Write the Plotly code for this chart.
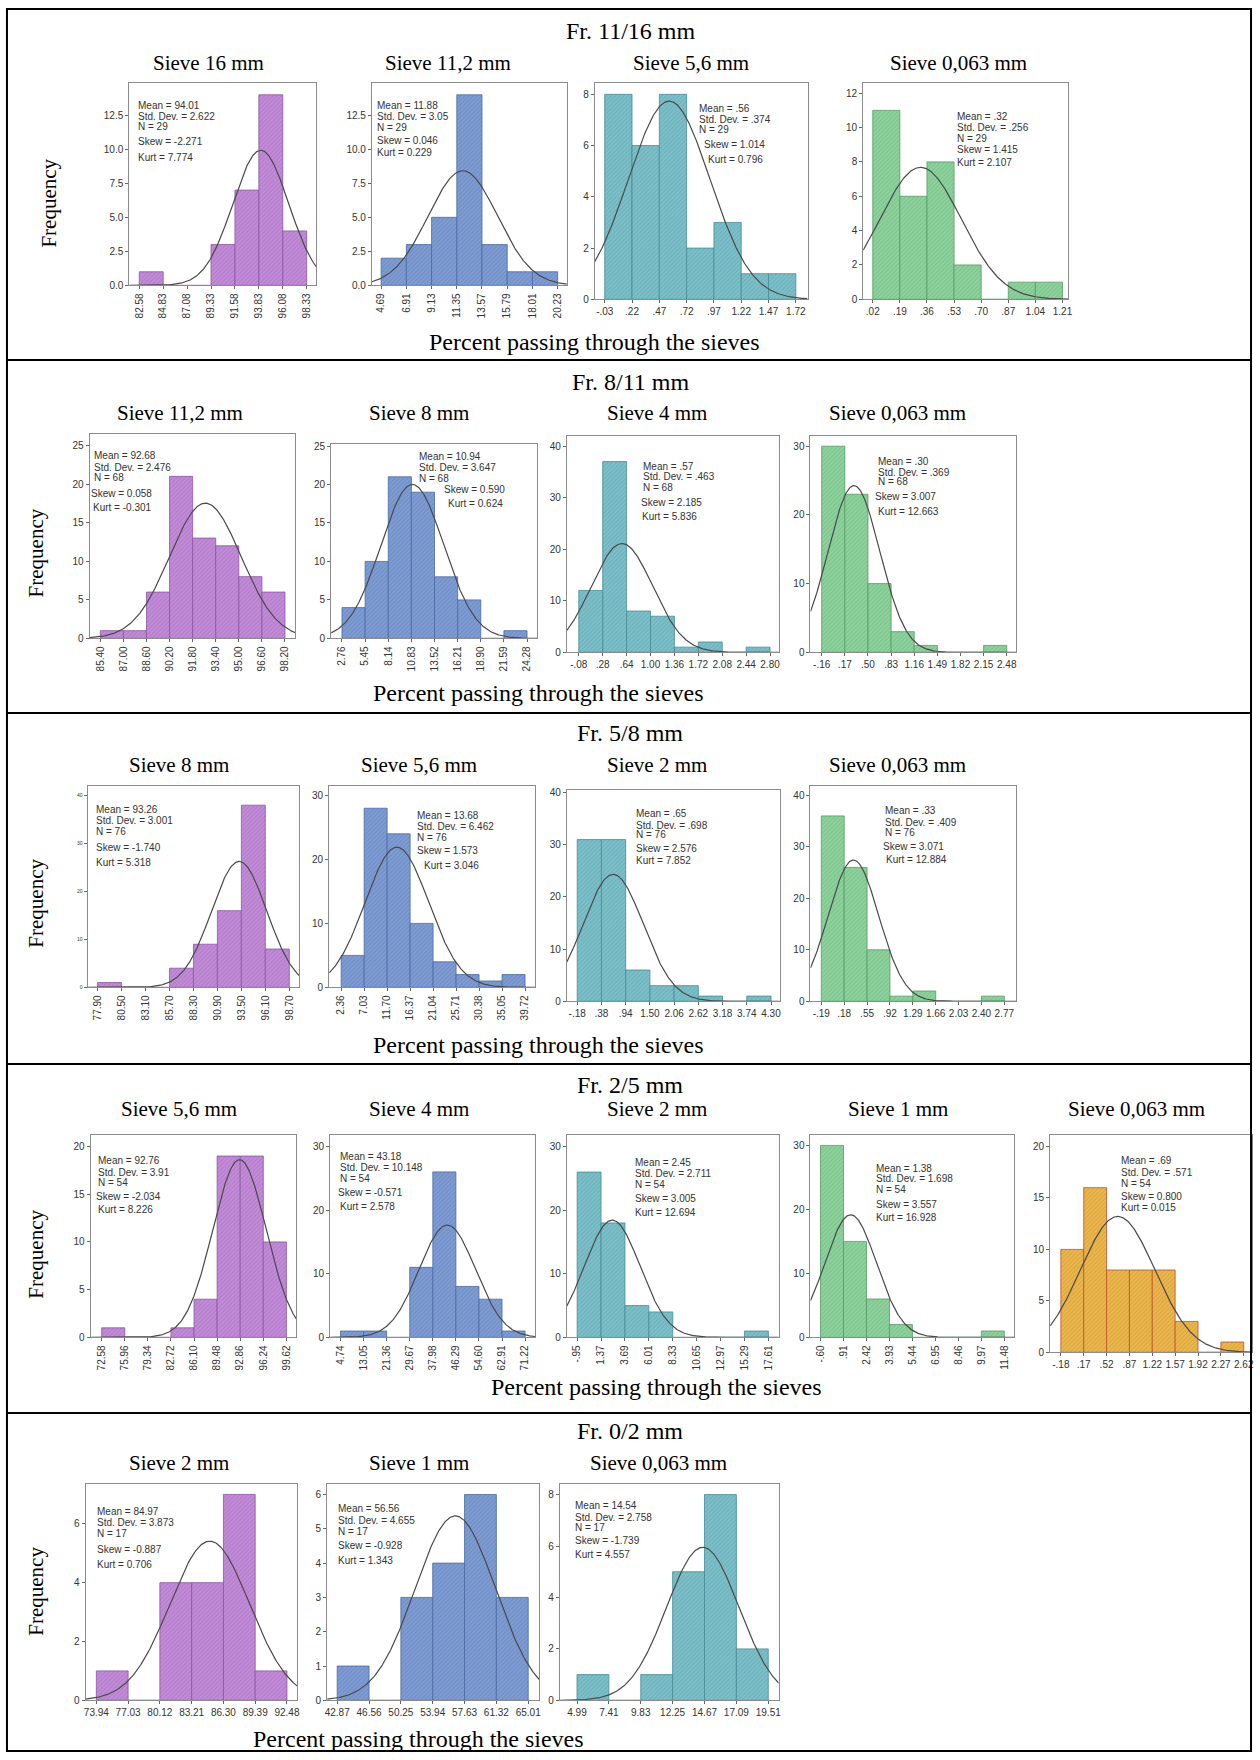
import numpy as np
import plotly.graph_objects as go

# ------------------------------------------------------------------ data
ROW_TITLES = ["Fr. 11/16 mm", "Fr. 8/11 mm", "Fr. 5/8 mm", "Fr. 2/5 mm", "Fr. 0/2 mm"]
ROW_SIEVES = [
    ["Sieve 16 mm", "Sieve 11,2 mm", "Sieve 5,6 mm", "Sieve 0,063 mm"],
    ["Sieve 11,2 mm", "Sieve 8 mm", "Sieve 4 mm", "Sieve 0,063 mm"],
    ["Sieve 8 mm", "Sieve 5,6 mm", "Sieve 2 mm", "Sieve 0,063 mm"],
    ["Sieve 5,6 mm", "Sieve 4 mm", "Sieve 2 mm", "Sieve 1 mm", "Sieve 0,063 mm"],
    ["Sieve 2 mm", "Sieve 1 mm", "Sieve 0,063 mm"],
]
X_TITLE = "Percent passing through the sieves"
Y_TITLE = "Frequency"
STAT_NAMES = ["Mean", "Std. Dev.", "N", "Skew", "Kurt"]

# row 1 : Fr. 11/16 mm
R1P1_EDGES = ["82.58", "84.83", "87.08", "89.33", "91.58", "93.83", "96.08", "98.33"]
R1P1_COUNTS = [1, 0, 0, 3, 7, 14, 4]
R1P1_STATS = ["94.01", "2.622", "29", "-2.271", "7.774"]
R1P1_YTICKS = ["0.0", "2.5", "5.0", "7.5", "10.0", "12.5"]

R1P2_EDGES = ["4.69", "6.91", "9.13", "11.35", "13.57", "15.79", "18.01", "20.23"]
R1P2_COUNTS = [2, 3, 5, 14, 3, 1, 1]
R1P2_STATS = ["11.88", "3.05", "29", "0.046", "0.229"]
R1P2_YTICKS = ["0.0", "2.5", "5.0", "7.5", "10.0", "12.5"]

R1P3_EDGES = ["-.03", ".22", ".47", ".72", ".97", "1.22", "1.47", "1.72"]
R1P3_COUNTS = [8, 6, 8, 2, 3, 1, 1]
R1P3_STATS = [".56", ".374", "29", "1.014", "0.796"]
R1P3_YTICKS = ["0", "2", "4", "6", "8"]

R1P4_EDGES = [".02", ".19", ".36", ".53", ".70", ".87", "1.04", "1.21"]
R1P4_COUNTS = [11, 6, 8, 2, 0, 1, 1]
R1P4_STATS = [".32", ".256", "29", "1.415", "2.107"]
R1P4_YTICKS = ["0", "2", "4", "6", "8", "10", "12"]

# row 2 : Fr. 8/11 mm
R2P1_EDGES = ["85.40", "87.00", "88.60", "90.20", "91.80", "93.40", "95.00", "96.60", "98.20"]
R2P1_COUNTS = [1, 1, 6, 21, 13, 12, 8, 6]
R2P1_STATS = ["92.68", "2.476", "68", "0.058", "-0.301"]
R2P1_YTICKS = ["0", "5", "10", "15", "20", "25"]

R2P2_EDGES = ["2.76", "5.45", "8.14", "10.83", "13.52", "16.21", "18.90", "21.59", "24.28"]
R2P2_COUNTS = [4, 10, 21, 19, 8, 5, 0, 1]
R2P2_STATS = ["10.94", "3.647", "68", "0.590", "0.624"]
R2P2_YTICKS = ["0", "5", "10", "15", "20", "25"]

R2P3_EDGES = ["-.08", ".28", ".64", "1.00", "1.36", "1.72", "2.08", "2.44", "2.80"]
R2P3_COUNTS = [12, 37, 8, 7, 1, 2, 0, 1]
R2P3_STATS = [".57", ".463", "68", "2.185", "5.836"]
R2P3_YTICKS = ["0", "10", "20", "30", "40"]

R2P4_EDGES = ["-.16", ".17", ".50", ".83", "1.16", "1.49", "1.82", "2.15", "2.48"]
R2P4_COUNTS = [30, 23, 10, 3, 1, 0, 0, 1]
R2P4_STATS = [".30", ".369", "68", "3.007", "12.663"]
R2P4_YTICKS = ["0", "10", "20", "30"]

# row 3 : Fr. 5/8 mm
R3P1_EDGES = ["77.90", "80.50", "83.10", "85.70", "88.30", "90.90", "93.50", "96.10", "98.70"]
R3P1_COUNTS = [1, 0, 0, 4, 9, 16, 38, 8]
R3P1_STATS = ["93.26", "3.001", "76", "-1.740", "5.318"]
R3P1_YTICKS = ["0", "10", "20", "30", "40"]

R3P2_EDGES = ["2.36", "7.03", "11.70", "16.37", "21.04", "25.71", "30.38", "35.05", "39.72"]
R3P2_COUNTS = [5, 28, 24, 10, 4, 2, 1, 2]
R3P2_STATS = ["13.68", "6.462", "76", "1.573", "3.046"]
R3P2_YTICKS = ["0", "10", "20", "30"]

R3P3_EDGES = ["-.18", ".38", ".94", "1.50", "2.06", "2.62", "3.18", "3.74", "4.30"]
R3P3_COUNTS = [31, 31, 6, 3, 3, 1, 0, 1]
R3P3_STATS = [".65", ".698", "76", "2.576", "7.852"]
R3P3_YTICKS = ["0", "10", "20", "30", "40"]

R3P4_EDGES = ["-.19", ".18", ".55", ".92", "1.29", "1.66", "2.03", "2.40", "2.77"]
R3P4_COUNTS = [36, 26, 10, 1, 2, 0, 0, 1]
R3P4_STATS = [".33", ".409", "76", "3.071", "12.884"]
R3P4_YTICKS = ["0", "10", "20", "30", "40"]

# row 4 : Fr. 2/5 mm
R4P1_EDGES = ["72.58", "75.96", "79.34", "82.72", "86.10", "89.48", "92.86", "96.24", "99.62"]
R4P1_COUNTS = [1, 0, 0, 1, 4, 19, 19, 10]
R4P1_STATS = ["92.76", "3.91", "54", "-2.034", "8.226"]
R4P1_YTICKS = ["0", "5", "10", "15", "20"]

R4P2_EDGES = ["4.74", "13.05", "21.36", "29.67", "37.98", "46.29", "54.60", "62.91", "71.22"]
R4P2_COUNTS = [1, 1, 0, 11, 26, 8, 6, 1]
R4P2_STATS = ["43.18", "10.148", "54", "-0.571", "2.578"]
R4P2_YTICKS = ["0", "10", "20", "30"]

R4P3_EDGES = ["-.95", "1.37", "3.69", "6.01", "8.33", "10.65", "12.97", "15.29", "17.61"]
R4P3_COUNTS = [26, 18, 5, 4, 0, 0, 0, 1]
R4P3_STATS = ["2.45", "2.711", "54", "3.005", "12.694"]
R4P3_YTICKS = ["0", "10", "20", "30"]

R4P4_EDGES = ["-.60", ".91", "2.42", "3.93", "5.44", "6.95", "8.46", "9.97", "11.48"]
R4P4_COUNTS = [30, 15, 6, 2, 0, 0, 0, 1]
R4P4_STATS = ["1.38", "1.698", "54", "3.557", "16.928"]
R4P4_YTICKS = ["0", "10", "20", "30"]

R4P5_EDGES = ["-.18", ".17", ".52", ".87", "1.22", "1.57", "1.92", "2.27", "2.62"]
R4P5_COUNTS = [10, 16, 8, 8, 8, 3, 0, 1]
R4P5_STATS = [".69", ".571", "54", "0.800", "0.015"]
R4P5_YTICKS = ["0", "5", "10", "15", "20"]

# row 5 : Fr. 0/2 mm
R5P1_EDGES = ["73.94", "77.03", "80.12", "83.21", "86.30", "89.39", "92.48"]
R5P1_COUNTS = [1, 0, 4, 4, 7, 1]
R5P1_STATS = ["84.97", "3.873", "17", "-0.887", "0.706"]
R5P1_YTICKS = ["0", "2", "4", "6"]

R5P2_EDGES = ["42.87", "46.56", "50.25", "53.94", "57.63", "61.32", "65.01"]
R5P2_COUNTS = [1, 0, 3, 4, 6, 3]
R5P2_STATS = ["56.56", "4.655", "17", "-0.928", "1.343"]
R5P2_YTICKS = ["0", "1", "2", "3", "4", "5", "6"]

R5P3_EDGES = ["4.99", "7.41", "9.83", "12.25", "14.67", "17.09", "19.51"]
R5P3_COUNTS = [1, 0, 1, 5, 8, 2]
R5P3_STATS = ["14.54", "2.758", "17", "-1.739", "4.557"]
R5P3_YTICKS = ["0", "2", "4", "6", "8"]

# ------------------------------------------------------------------ style / layout
W, H = 1260, 1760
SERIF = "Liberation Serif, Times New Roman, serif"
SANS = "Liberation Sans, Arial, sans-serif"

COLORS = {
    "purple": ("#C28CD8", "#8A55A2", "#B27BC8"),
    "blue": ("#7F9DD3", "#4A69A4", "#6F8DC5"),
    "teal": ("#7DC0C9", "#468C96", "#6CB0BA"),
    "green": ("#8ED29E", "#559C66", "#7DC28D"),
    "orange": ("#EBB74E", "#C0502A", "#DAA53E"),
}

# frame = (left, right, top, bottom) in pixels; xr = x range; ytop = y max
PANELS = [
    dict(d=(R1P1_EDGES, R1P1_COUNTS, R1P1_STATS, R1P1_YTICKS), c="purple", frame=(128, 316, 79, 283), xr=(81.64, 99.23), ytop=14.9, rot=True,
         tx=[135, 135, 135, 135, 135], ty=[101.7, 112.7, 123.3, 138.3, 154]),
    dict(d=(R1P2_EDGES, R1P2_COUNTS, R1P2_STATS, R1P2_YTICKS), c="blue", frame=(372, 568, 79, 283), xr=(3.88, 21.04), ytop=14.9, rot=True,
         tx=[375.5] * 5, ty=[101.7, 112.7, 124, 137.3, 149.7]),
    dict(d=(R1P3_EDGES, R1P3_COUNTS, R1P3_STATS, R1P3_YTICKS), c="teal", frame=(596, 810, 79, 297), xr=(-0.122, 1.827), ytop=8.46, rot=False,
         tx=[699, 699, 699, 704, 707.5], ty=[105, 116, 126.7, 141, 156]),
    dict(d=(R1P4_EDGES, R1P4_COUNTS, R1P4_STATS, R1P4_YTICKS), c="green", frame=(866, 1072, 79, 297), xr=(-0.04, 1.245), ytop=12.62, rot=False,
         tx=[958.5] * 5, ty=[112.7, 124, 135, 146.7, 159.3]),

    dict(d=(R2P1_EDGES, R2P1_COUNTS, R2P1_STATS, R2P1_YTICKS), c="purple", frame=(88, 295, 432, 638), xr=(84.65, 98.92), ytop=26.55, rot=True,
         tx=[90.4, 90.4, 90.4, 87.6, 89.2], ty=[454.3, 466, 476.7, 492.3, 506.7]),
    dict(d=(R2P2_EDGES, R2P2_COUNTS, R2P2_STATS, R2P2_YTICKS), c="blue", frame=(331, 538, 443, 638), xr=(1.5, 25.44), ytop=25.2, rot=True,
         tx=[417.8, 417.8, 417.8, 442, 446.8], ty=[455, 466, 477, 488.3, 502.7]),
    dict(d=(R2P3_EDGES, R2P3_COUNTS, R2P3_STATS, R2P3_YTICKS), c="teal", frame=(568, 781, 434, 652), xr=(-0.26, 2.93), ytop=42.05, rot=False,
         tx=[643, 643, 643, 641, 642], ty=[465, 475.7, 486.7, 501.7, 515]),
    dict(d=(R2P4_EDGES, R2P4_COUNTS, R2P4_STATS, R2P4_YTICKS), c="green", frame=(813, 1020, 434, 652), xr=(-0.32, 2.617), ytop=31.55, rot=False,
         tx=[879, 879, 879, 876.3, 879], ty=[460, 470.7, 480.7, 495, 510]),

    dict(d=(R3P1_EDGES, R3P1_COUNTS, R3P1_STATS, R3P1_YTICKS), c="purple", frame=(86, 299, 786, 989), xr=(76.81, 99.79), ytop=42.1, rot=True,
         tx=[92.4] * 5, ty=[810, 821, 832, 848.3, 863.3], yfont=5),
    dict(d=(R3P2_EDGES, R3P2_COUNTS, R3P2_STATS, R3P2_YTICKS), c="blue", frame=(329, 536, 786, 989), xr=(-0.08, 41.75), ytop=31.55, rot=True,
         tx=[415.8, 415.8, 415.8, 415.8, 421.9], ty=[816, 827.3, 838.3, 851, 866]),
    dict(d=(R3P3_EDGES, R3P3_COUNTS, R3P3_STATS, R3P3_YTICKS), c="teal", frame=(568, 782, 790, 1003), xr=(-0.42, 4.50), ytop=40.6, rot=False,
         tx=[636] * 5, ty=[814.3, 825.7, 835.7, 849.3, 861.7]),
    dict(d=(R3P4_EDGES, R3P4_COUNTS, R3P4_STATS, R3P4_YTICKS), c="green", frame=(813, 1020, 786, 1003), xr=(-0.365, 2.964), ytop=41.9, rot=False,
         tx=[886, 886, 886, 884, 887], ty=[811, 822.7, 833.3, 847.3, 860]),

    dict(d=(R4P1_EDGES, R4P1_COUNTS, R4P1_STATS, R4P1_YTICKS), c="purple", frame=(89, 296, 1137, 1341), xr=(70.94, 101.08), ytop=21.25, rot=True,
         tx=[94.4, 94.4, 94.4, 93, 95], ty=[1163, 1174.7, 1185.7, 1199, 1212.3]),
    dict(d=(R4P2_EDGES, R4P2_COUNTS, R4P2_STATS, R4P2_YTICKS), c="blue", frame=(330, 536, 1137, 1341), xr=(1.0, 74.8), ytop=31.87, rot=True,
         tx=[337.5, 337.5, 337.5, 335.5, 337.5], ty=[1159, 1169.7, 1181.3, 1195.7, 1209]),
    dict(d=(R4P3_EDGES, R4P3_COUNTS, R4P3_STATS, R4P3_YTICKS), c="teal", frame=(568, 781, 1137, 1341), xr=(-1.95, 18.61), ytop=31.9, rot=True,
         tx=[634.8] * 5, ty=[1164.7, 1176.3, 1187.3, 1201.3, 1215.7]),
    dict(d=(R4P4_EDGES, R4P4_COUNTS, R4P4_STATS, R4P4_YTICKS), c="green", frame=(813, 1018, 1137, 1341), xr=(-1.26, 12.14), ytop=31.7, rot=True,
         tx=[877] * 5, ty=[1170.7, 1181.3, 1192.3, 1207, 1220.7]),
    dict(d=(R4P5_EDGES, R4P5_COUNTS, R4P5_STATS, R4P5_YTICKS), c="orange", frame=(1054, 1257, 1137, 1356), xr=(-0.344, 2.747), ytop=21.16, rot=False,
         tx=[1123.4] * 5, ty=[1163, 1174.7, 1186.3, 1199, 1210.7]),

    dict(d=(R5P1_EDGES, R5P1_COUNTS, R5P1_STATS, R5P1_YTICKS), c="purple", frame=(84, 297, 1488, 1706), xr=(72.89, 93.49), ytop=7.37, rot=False,
         tx=[93.2] * 5, ty=[1515.7, 1527, 1538, 1554.7, 1569.7]),
    dict(d=(R5P2_EDGES, R5P2_COUNTS, R5P2_STATS, R5P2_YTICKS), c="blue", frame=(327, 540, 1488, 1706), xr=(41.71, 66.26), ytop=6.32, rot=False,
         tx=[335.5] * 5, ty=[1513, 1524.7, 1536.3, 1550.7, 1565.3]),
    dict(d=(R5P3_EDGES, R5P3_COUNTS, R5P3_STATS, R5P3_YTICKS), c="teal", frame=(561, 781, 1488, 1706), xr=(3.69, 20.3), ytop=8.43, rot=False,
         tx=[573.7] * 5, ty=[1510.3, 1522, 1532.3, 1545.3, 1559.7]),
]

ROW_TITLE_POS = [(632, 26.7), (632, 380), (632, 733), (632, 1087), (632, 1434.7)]
SUB_Y = [59.3, 411.7, 765, 1111.3, 1467]
SUB_X = [[207.3, 448.6, 693.3, 962], [178.8, 419.8, 659, 900.8], [178.4, 419.8, 659, 900.8],
         [178.4, 419.4, 659, 901.2, 1140.8], [178.4, 419.8, 660]]
XTITLE_POS = [(595.6, 340), (539.4, 693), (539.4, 1046.7), (658, 1391.3), (419.3, 1744.7)]
YTITLE_POS = [(47, 200), (34, 551.7), (34, 904), (34, 1257), (34, 1596)]
ROW_LINES = [358, 713, 1066, 1417]


def px(x):
    return x / W


def py(y):
    return 1 - y / H


fig = go.Figure()
annotations = []

for i, p in enumerate(PANELS):
    n = i + 1
    sfx = "" if n == 1 else str(n)
    edges_lbl, counts, stats, ytick_lbl = p["d"]
    edges = np.array([float(e) for e in edges_lbl])
    centers = (edges[:-1] + edges[1:]) / 2
    widths = np.diff(edges)
    fill, edge_col, hatch = COLORS[p["c"]]
    fig.add_trace(go.Bar(
        x=centers, y=counts, width=widths,
        marker=dict(color=fill, line=dict(color=edge_col, width=0.8),
                    pattern=dict(shape="/", bgcolor=fill, fgcolor=hatch, size=3, solidity=0.35, fillmode="replace")),
        xaxis="x" + sfx, yaxis="y" + sfx, showlegend=False, hoverinfo="skip"))
    mean, sd, nobs = float(stats[0]), float(stats[1]), float(stats[2])
    bw = widths.mean()
    xs = np.linspace(p["xr"][0], p["xr"][1], 300)
    ys = nobs * bw / (sd * np.sqrt(2 * np.pi)) * np.exp(-0.5 * ((xs - mean) / sd) ** 2)
    fig.add_trace(go.Scatter(x=xs, y=ys, mode="lines", line=dict(color="#4a4a4a", width=1.2),
                             xaxis="x" + sfx, yaxis="y" + sfx, showlegend=False, hoverinfo="skip"))

    l, r, t, b = p["frame"]
    fig.layout["xaxis" + sfx] = dict(
        domain=[px(l), px(r)], range=list(p["xr"]), anchor="y" + sfx,
        tickmode="array", tickvals=edges, ticktext=edges_lbl,
        tickangle=-90 if p["rot"] else 0,
        tickfont=dict(family=SANS, size=10, color="#333"),
        ticks="outside", ticklen=3, tickcolor="#666", tickwidth=1,
        showline=True, linecolor="#8c8c8c", linewidth=1, mirror=True,
        showgrid=False, zeroline=False, fixedrange=True)
    fig.layout["yaxis" + sfx] = dict(
        domain=[py(b), py(t)], range=[0, p["ytop"]], anchor="x" + sfx,
        tickmode="array", tickvals=[float(v) for v in ytick_lbl], ticktext=ytick_lbl,
        tickfont=dict(family=SANS, size=p.get("yfont", 10), color="#333"),
        ticks="outside", ticklen=3, tickcolor="#666", tickwidth=1,
        showline=True, linecolor="#8c8c8c", linewidth=1, mirror=True,
        showgrid=False, zeroline=False, fixedrange=True)

    for j in range(5):
        annotations.append(dict(
            text=f"{STAT_NAMES[j]} = {stats[j]}", x=px(p["tx"][j]), y=py(p["ty"][j]),
            xref="paper", yref="paper", xanchor="left", yanchor="middle", showarrow=False,
            font=dict(family=SANS, size=10, color="#333")))

for k in range(5):
    x, y = ROW_TITLE_POS[k]
    annotations.append(dict(text=ROW_TITLES[k], x=px(x), y=py(y), xref="paper", yref="paper",
                            xanchor="center", yanchor="middle", showarrow=False,
                            font=dict(family=SERIF, size=24, color="#000")))
    for s, sx in zip(ROW_SIEVES[k], SUB_X[k]):
        annotations.append(dict(text=s, x=px(sx), y=py(SUB_Y[k]), xref="paper", yref="paper",
                                xanchor="center", yanchor="middle", showarrow=False,
                                font=dict(family=SERIF, size=21, color="#000")))
    x, y = XTITLE_POS[k]
    annotations.append(dict(text=X_TITLE, x=px(x), y=py(y), xref="paper", yref="paper",
                            xanchor="center", yanchor="middle", showarrow=False,
                            font=dict(family=SERIF, size=24, color="#000")))
    x, y = YTITLE_POS[k]
    annotations.append(dict(text=Y_TITLE, x=px(x), y=py(y), xref="paper", yref="paper",
                            xanchor="center", yanchor="middle", showarrow=False, textangle=-90,
                            font=dict(family=SERIF, size=21, color="#000")))

shapes = [dict(type="rect", xref="paper", yref="paper", x0=px(5), x1=px(1256), y0=py(1757), y1=py(5),
               line=dict(color="#000", width=2))]
for ly in ROW_LINES:
    shapes.append(dict(type="line", xref="paper", yref="paper", x0=px(5), x1=px(1256), y0=py(ly), y1=py(ly),
                       line=dict(color="#000", width=2)))

fig.update_layout(
    width=W, height=H, margin=dict(l=0, r=0, t=0, b=0),
    paper_bgcolor="white", plot_bgcolor="white",
    annotations=annotations, shapes=shapes, showlegend=False, barmode="overlay",
)

fig.write_html("out.html", config={"displayModeBar": False},
               post_script="document.body.style.margin='0';")
